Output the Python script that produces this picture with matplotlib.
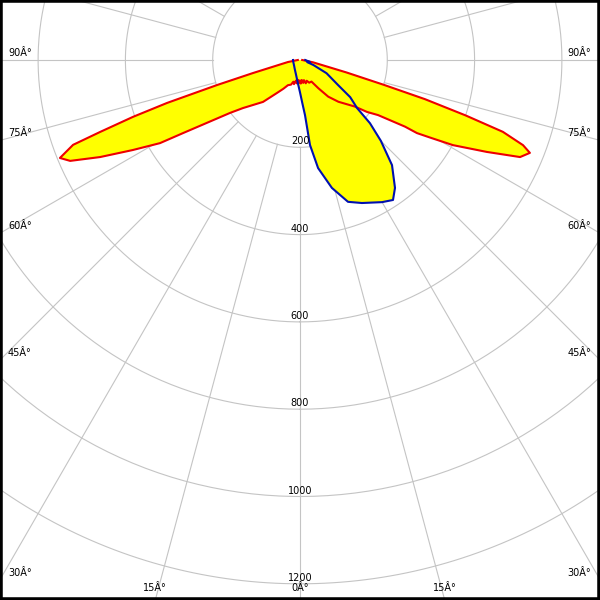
import numpy as np
import matplotlib
matplotlib.use('Agg')
import matplotlib.pyplot as plt

# C0-C180 plane (red), gamma in degrees, intensity in cd
red_angle = [-90, -80.5, -74.5, -73.2, -72.1, -71.2, -70.2, -69.5, -67.8, -66.3,
             -64.1, -61.7, -59.3, -58.0, -52.9, -49.9, -41.4, -34.9, -30, -25.6,
             -20, -17, -14, -11, -8, -5, -2, 0, 2, 5, 8, 11, 14, 18, 22,
             28, 33, 37.6, 42.6, 49.7, 52.2, 54.8, 57.6, 58.0, 59.3, 60.9,
             63.8, 66.2, 68.0, 69.1, 70.5, 71.5, 72.6, 73.5, 75, 80, 90]
red_cd = [5, 28, 112, 199, 320, 404, 487, 555, 594, 575,
          509, 435, 373, 316, 201, 171, 128, 92, 76, 64,
          60, 52, 57, 48, 54, 46, 52, 47, 54, 46, 53, 47, 55, 50, 56,
          56, 77, 106, 130, 165, 194, 219, 285, 316, 350, 401,
          477, 551, 568, 547, 493, 400, 300, 200, 110, 30, 5]

# C90-C270 plane (blue)
blue_angle = [-90, -80, -45, -30, -15, -5, 0, 3, 5.2, 6.7, 9.5, 14.0, 18.7,
              23.4, 30.0, 33.6, 36.6, 41.2, 45, 47.9, 49.9, 53.5, 56.7,
              63.5, 69.4, 74, 79, 90]
blue_cd = [16, 16, 19, 24, 35, 54, 74, 98, 127, 196, 251, 302, 343,
           357, 376, 385, 365, 320, 262, 216, 171, 143, 104,
           68, 33, 17, 23, 12]

rings = [200, 400, 600, 800, 1000, 1200]
side_angles = [90, 75, 60, 45, 30]
bottom_angles = [15, 0]

k = 87.3 / 200.0  # pixels per cd
fig = plt.figure(figsize=(6, 6), dpi=100)
ax = fig.add_axes([0, 0, 1, 1])
xmax = 300 / k
ymin, ymax = -540 / k, 60 / k
ax.set_xlim(-xmax, xmax)
ax.set_ylim(ymin, ymax)
ax.set_xticks([])
ax.set_yticks([])
for s in ax.spines.values():
    s.set_linewidth(4)
    s.set_color('black')

grid = '#c4c4c4'
t = np.linspace(0, 2 * np.pi, 400)
for r in rings:
    ax.plot(r * np.sin(t), -r * np.cos(t), color=grid, lw=0.8, zorder=1)
for a in range(0, 360, 15):
    g = np.radians(a)
    ax.plot([200 * np.sin(g), 3000 * np.sin(g)], [-200 * np.cos(g), -3000 * np.cos(g)],
            color=grid, lw=0.8, zorder=1)


def to_xy(angles, cd):
    g = np.radians(np.array(angles, dtype=float))
    i = np.array(cd, dtype=float)
    return i * np.sin(g), -i * np.cos(g)


rx, ry = to_xy(red_angle, red_cd)
bx, by = to_xy(blue_angle, blue_cd)
ax.fill(rx, ry, color='#ffff00', lw=0, zorder=2)
ax.fill(bx, by, color='#ffff00', lw=0, zorder=2)
ax.plot(rx, ry, color='#ee0000', lw=1.5, zorder=3)
ax.plot(bx, by, color='#0010b0', lw=1.5, zorder=4)

# ring labels
for r in rings:
    ax.annotate(str(r), xy=(0, -r), xytext=(0, 6), textcoords='offset pixels',
                ha='center', va='center', fontsize=7, zorder=5)

# angle labels on the frame
for a in side_angles:
    g = np.radians(a)
    y = -xmax / np.tan(g) if a != 90 else 0
    ax.annotate(f'{a}Â°', xy=(-xmax, y), xytext=(8, 7), textcoords='offset pixels',
                ha='left', va='center', fontsize=7, zorder=5)
    ax.annotate(f'{a}Â°', xy=(xmax, y), xytext=(-9, 7), textcoords='offset pixels',
                ha='right', va='center', fontsize=7, zorder=5)
for a in bottom_angles:
    g = np.radians(a)
    x = -ymin * np.tan(g)
    for sx in ([-1, 1] if a else [1]):
        ax.annotate(f'{a}Â°', xy=(sx * x, ymin), xytext=(0, 12), textcoords='offset pixels',
                    ha='center', va='center', fontsize=7, zorder=5)

fig.savefig('out.png', dpi=100)
